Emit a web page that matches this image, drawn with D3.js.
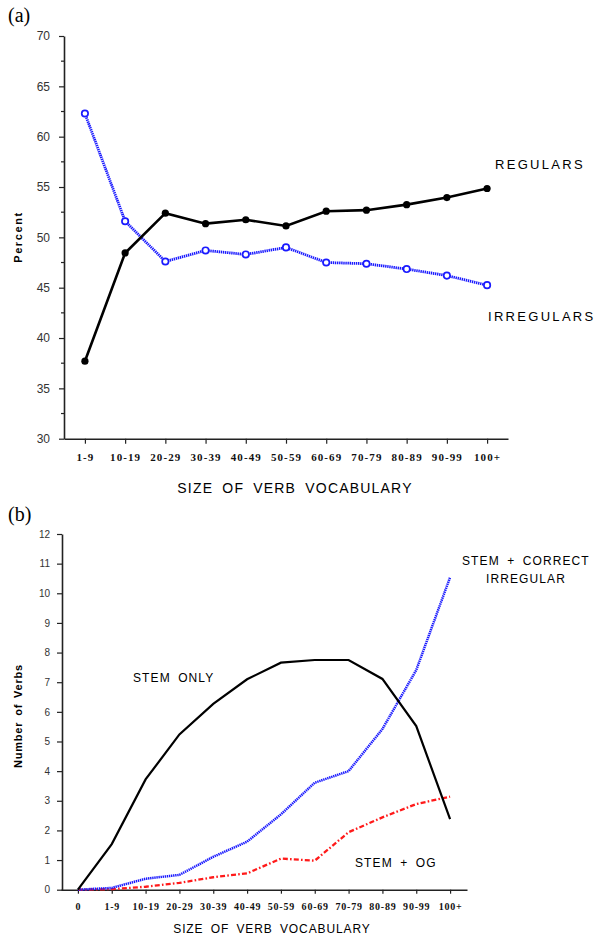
<!DOCTYPE html>
<html>
<head>
<meta charset="utf-8">
<script src="https://cdn.jsdelivr.net/npm/d3@7"></script>
<style>
  body { margin: 0; background: #fff; }
  svg { display: block; }
  .sans { font-family: "Liberation Sans", Arial, sans-serif; }
  .cat text { font-family: "Liberation Serif", "Times New Roman", serif; font-weight: bold; fill: #111; }
</style>
</head>
<body>
<div id="chart"></div>
<script>
// --- Panel (a) data ---
const catsA = ["1-9", "10-19", "20-29", "30-39", "40-49", "50-59", "60-69", "70-79", "80-89", "90-99", "100+"];
const regulars   = [37.7, 48.45, 52.4, 51.36, 51.75, 51.13, 52.6, 52.7, 53.25, 53.95, 54.85];
const irregulars = [62.3, 51.6, 47.6, 48.7, 48.3, 49.0, 47.5, 47.38, 46.85, 46.2, 45.25];
const ticksA = [30, 35, 40, 45, 50, 55, 60, 65, 70];
const minorA = [32.5, 37.5, 42.5, 47.5, 52.5, 57.5, 62.5, 67.5];

// --- Panel (b) data ---
const catsB = ["0", "1-9", "10-19", "20-29", "30-39", "40-49", "50-59", "60-69", "70-79", "80-89", "90-99", "100+"];
const stemOnly    = [0, 1.54, 3.72, 5.24, 6.27, 7.1, 7.66, 7.75, 7.75, 7.11, 5.52, 2.38];
const stemCorrect = [0, 0.06, 0.37, 0.5, 1.11, 1.62, 2.54, 3.61, 4.0, 5.42, 7.41, 10.54];
const stemOG      = [0, 0.02, 0.1, 0.23, 0.42, 0.55, 1.05, 0.98, 1.94, 2.44, 2.89, 3.14];
const ticksB = d3.range(0, 13);

const W = 596, H = 936;
const svg = d3.select("#chart").append("svg")
  .attr("width", W).attr("height", H);

const BLUE = "#1a1aff";

// ================= PANEL (a) =================
const xA = d3.scalePoint().domain(catsA).range([64, 508]).padding(0.52);
const yA = d3.scaleLinear().domain([30, 70]).range([438.7, 36]);

const gA = svg.append("g");

gA.append("text").attr("x", 8).attr("y", 22)
  .style("font-family", "'Liberation Serif', serif").style("font-size", "20px")
  .text("(a)");

// y axis
const yAxisA = gA.append("g").attr("transform", "translate(64,0)")
  .call(d3.axisLeft(yA).tickValues(ticksA).tickSize(5).tickSizeOuter(0).tickPadding(9));
yAxisA.selectAll("text").attr("class", "sans").style("font-size", "12px").style("fill", "#333");
yAxisA.select(".domain").attr("stroke", "#222").attr("stroke-width", 1.6);
yAxisA.selectAll(".tick line").attr("stroke", "#222").attr("stroke-width", 1.2);
// minor ticks
yAxisA.selectAll(".minor").data(minorA).join("line")
  .attr("class", "minor")
  .attr("x1", -3).attr("x2", 0)
  .attr("y1", d => yA(d)).attr("y2", d => yA(d))
  .attr("stroke", "#222").attr("stroke-width", 1.2);

// x axis
const xAxisA = gA.append("g").attr("class", "cat").attr("transform", "translate(0,438.7)")
  .call(d3.axisBottom(xA).tickSize(5).tickSizeOuter(0).tickPadding(10));
xAxisA.selectAll("text").style("font-size", "11px").style("letter-spacing", "1.1px");
xAxisA.select(".domain").attr("stroke", "#222").attr("stroke-width", 1.6);
xAxisA.selectAll(".tick line").attr("stroke", "#222").attr("stroke-width", 1.2);

gA.append("text").attr("class", "sans")
  .attr("x", 295).attr("y", 493).attr("text-anchor", "middle")
  .style("font-size", "14px").style("letter-spacing", "1.2px").style("word-spacing", "4px")
  .text("SIZE OF VERB VOCABULARY");

gA.append("text").attr("class", "sans")
  .attr("transform", "translate(22,237) rotate(-90)").attr("text-anchor", "middle")
  .style("font-size", "11px").style("font-weight", "bold").style("letter-spacing", "1.6px")
  .text("Percent");

const lineA = d3.line().x((d, i) => xA(catsA[i])).y(d => yA(d));

gA.append("path").datum(irregulars)
  .attr("d", lineA).attr("fill", "none")
  .attr("stroke", BLUE).attr("stroke-width", 2.8).attr("stroke-dasharray", "1.4,0.7");
gA.selectAll(".irr").data(irregulars).join("circle")
  .attr("class", "irr")
  .attr("cx", (d, i) => xA(catsA[i])).attr("cy", d => yA(d)).attr("r", 3.2)
  .attr("fill", "#fff").attr("stroke", BLUE).attr("stroke-width", 1.7);

gA.append("path").datum(regulars)
  .attr("d", lineA).attr("fill", "none")
  .attr("stroke", "#000").attr("stroke-width", 2.6);
gA.selectAll(".reg").data(regulars).join("circle")
  .attr("class", "reg")
  .attr("cx", (d, i) => xA(catsA[i])).attr("cy", d => yA(d)).attr("r", 3.6)
  .attr("fill", "#000");

gA.append("text").attr("class", "sans")
  .attr("x", 495).attr("y", 169)
  .style("font-size", "13px").style("letter-spacing", "2.3px")
  .text("REGULARS");
gA.append("text").attr("class", "sans")
  .attr("x", 488).attr("y", 321)
  .style("font-size", "13px").style("letter-spacing", "2.3px")
  .text("IRREGULARS");

// ================= PANEL (b) =================
const xB = d3.scalePoint().domain(catsB).range([61, 467]).padding(0.5);
const yB = d3.scaleLinear().domain([0, 12]).range([889.7, 534]);

const gB = svg.append("g");

gB.append("text").attr("x", 8).attr("y", 521)
  .style("font-family", "'Liberation Serif', serif").style("font-size", "20px")
  .text("(b)");

const yAxisB = gB.append("g").attr("transform", "translate(62,0)")
  .call(d3.axisLeft(yB).tickValues(ticksB).tickSize(5).tickSizeOuter(0).tickPadding(7));
yAxisB.selectAll("text").attr("class", "sans").style("font-size", "10px").style("fill", "#333");
yAxisB.select(".domain").attr("stroke", "#222").attr("stroke-width", 1.6);
yAxisB.selectAll(".tick line").attr("stroke", "#222").attr("stroke-width", 1.2);

const xAxisB = gB.append("g").attr("class", "cat").attr("transform", "translate(0,889.7)")
  .call(d3.axisBottom(xB).tickSize(4).tickSizeOuter(0).tickPadding(9));
xAxisB.selectAll("text").style("font-size", "10px").style("letter-spacing", "0.8px");
xAxisB.select(".domain").attr("stroke", "#222").attr("stroke-width", 1.6);
xAxisB.selectAll(".tick line").attr("stroke", "#222").attr("stroke-width", 1.2);

gB.append("text").attr("class", "sans")
  .attr("x", 272).attr("y", 933).attr("text-anchor", "middle")
  .style("font-size", "12px").style("letter-spacing", "0.9px").style("word-spacing", "3px")
  .text("SIZE OF VERB VOCABULARY");

gB.append("text").attr("class", "sans")
  .attr("transform", "translate(22,716) rotate(-90)").attr("text-anchor", "middle")
  .style("font-size", "11px").style("font-weight", "bold").style("letter-spacing", "0.8px").style("word-spacing", "2px")
  .text("Number of Verbs");

const lineB = d3.line().x((d, i) => xB(catsB[i])).y(d => yB(d));

gB.append("path").datum(stemOG)
  .attr("d", lineB).attr("fill", "none")
  .attr("stroke", "#ff1a1a").attr("stroke-width", 2.3).attr("stroke-dasharray", "5,2.2,1.6,2.2");
gB.append("path").datum(stemCorrect)
  .attr("d", lineB).attr("fill", "none")
  .attr("stroke", BLUE).attr("stroke-width", 2.5).attr("stroke-dasharray", "1.4,0.7");
gB.append("path").datum(stemOnly)
  .attr("d", lineB).attr("fill", "none")
  .attr("stroke", "#000").attr("stroke-width", 2.2);

gB.append("text").attr("class", "sans")
  .attr("x", 133).attr("y", 682)
  .style("font-size", "12px").style("letter-spacing", "1.1px").style("word-spacing", "3px")
  .text("STEM ONLY");
gB.append("text").attr("class", "sans")
  .attr("x", 462).attr("y", 565)
  .style("font-size", "12px").style("letter-spacing", "1.1px").style("word-spacing", "3px")
  .text("STEM + CORRECT");
gB.append("text").attr("class", "sans")
  .attr("x", 486).attr("y", 583)
  .style("font-size", "12px").style("letter-spacing", "1.1px")
  .text("IRREGULAR");
gB.append("text").attr("class", "sans")
  .attr("x", 355).attr("y", 867)
  .style("font-size", "12px").style("letter-spacing", "1.1px").style("word-spacing", "3px")
  .text("STEM + OG");
</script>
</body>
</html>
